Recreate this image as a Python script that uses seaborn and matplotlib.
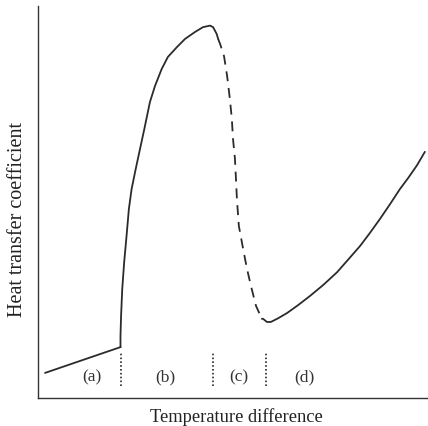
import matplotlib
matplotlib.use("Agg")
import matplotlib.pyplot as plt
import seaborn as sns
import pandas as pd

# Boiling curve: heat transfer coefficient vs. wall superheat (arbitrary units, 0-100)
# (a) natural convection
conv_dt = [1.8, 21.2]
conv_h = [6.4, 13.0]

# (b) nucleate boiling
nucl_dt = [21.15, 21.15, 21.3, 21.6, 22.1, 22.7, 23.3, 24.0, 25.05, 26.15, 27.26,
           28.7, 30.0, 31.7, 33.3, 35.6, 37.7, 40.3, 42.3, 44.1, 44.9, 45.8, 46.2]
nucl_h = [13.0, 15.8, 20.9, 27.8, 34.7, 41.3, 48.2, 53.3, 58.4, 63.5, 68.6,
          75.5, 79.6, 83.9, 87.0, 89.5, 91.6, 93.4, 94.6, 95.0, 94.6, 92.9, 91.6]

# (c) transition boiling (unstable, dashed)
trans_dt = [46.2, 46.7, 47.7, 48.5, 49.2, 49.7, 50.0, 50.5, 50.8, 51.0, 51.5,
            52.6, 53.6, 54.6, 55.9, 57.4]
trans_h = [91.6, 90.3, 87.2, 82.1, 76.3, 71.2, 66.1, 61.0, 55.1, 50.8, 43.9,
           38.0, 32.9, 28.6, 23.5, 20.2]

# (d) film boiling
film_dt = [57.4, 57.7, 58.7, 59.7, 61.5, 63.9, 66.7, 69.7, 73.1, 76.7, 79.7,
           82.6, 85.1, 87.7, 90.3, 92.8, 94.9, 97.2, 99.2]
film_h = [20.2, 20.2, 19.4, 19.4, 20.3, 21.7, 23.7, 26.0, 28.8, 32.1, 35.5,
          38.8, 42.1, 45.7, 49.5, 53.3, 56.1, 59.4, 62.8]

# Regime boundaries and labels
boundary_dt = [21.2, 44.9, 58.5]
boundary_span = [3.1, 11.5]
regime_labels = ["(a)", "(b)", "(c)", "(d)"]
regime_label_dt = [13.8, 32.6, 51.5, 68.2]
regime_label_h = 5.6

sns.set_theme(style="white")
plt.rcParams["font.family"] = ["Liberation Serif", "DejaVu Serif"]

fig = plt.figure(figsize=(4.28, 4.27), dpi=100)
ax = fig.add_axes([38 / 428, 28 / 427, 390 / 428, 392 / 427])

line_color = "#2b2b2b"
lw = 1.3

def segment(x, y, **kw):
    df = pd.DataFrame({"dt": x, "h": y})
    sns.lineplot(data=df, x="dt", y="h", sort=False, estimator=None, ax=ax,
                 color=line_color, lw=lw, solid_capstyle="round",
                 solid_joinstyle="round", **kw)

segment(conv_dt, conv_h)
segment(nucl_dt, nucl_h)
segment(trans_dt, trans_h, dashes=False, linestyle=(0, (5.5, 3.8)))
segment(film_dt, film_h)

for xb in boundary_dt:
    ax.plot([xb, xb], boundary_span, color=line_color, lw=1.2,
            linestyle=(0, (1, 1.3)))

for lab, xl in zip(regime_labels, regime_label_dt):
    ax.text(xl, regime_label_h, lab, ha="center", va="center",
            fontsize=12.5, color="#333333")

ax.set_xlim(0, 100)
ax.set_ylim(0, 100)
ax.set_xticks([])
ax.set_yticks([])
for side in ("top", "right"):
    ax.spines[side].set_visible(False)
for side in ("left", "bottom"):
    ax.spines[side].set_color("#333333")
    ax.spines[side].set_linewidth(1.0)

ax.set_xlabel("Temperature difference", fontsize=13.3, color="#222222")
ax.set_ylabel("Heat transfer coefficient", fontsize=14.5, color="#222222")
ax.xaxis.set_label_coords(0.508, -0.046)
ax.xaxis.label.set_va("center")
ax.yaxis.set_label_coords(-0.053, 0.457)
ax.yaxis.label.set_va("center")

fig.savefig("out.png", dpi=100)
